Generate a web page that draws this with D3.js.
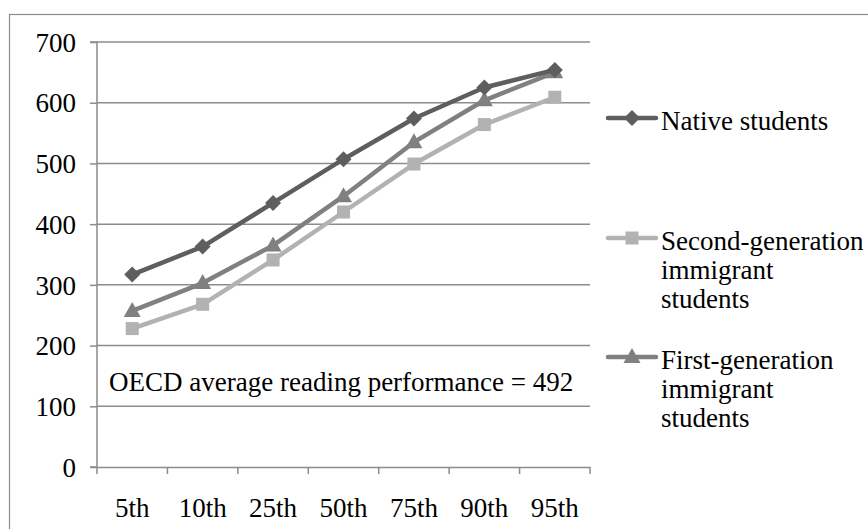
<!DOCTYPE html>
<html><head><meta charset="utf-8">
<script src="https://cdn.jsdelivr.net/npm/d3@7"></script>
</head><body style="margin:0"><svg id="c" width="868" height="529" font-family="serif"></svg>
<script>
const categories = ["5th","10th","25th","50th","75th","90th","95th"];
const nativeVals = [317,363,435,507,574,625,654];
const secondGenVals = [228,268,341,420,499,564,609];
const firstGenVals = [257,303,365,446,535,604,650];
const yTicks = [0,100,200,300,400,500,600,700];
const seriesNames = ["Native students","Second-generation immigrant students","First-generation immigrant students"];

const FONT = "serif";
const FS = 27;
const svg = d3.select("#c");
const L = 97, R = 590, T = 42, B = 467;
const x = d3.scaleBand().domain(categories).range([L, R]);
const y = d3.scaleLinear().domain([0,700]).range([B, T]);

svg.append("rect").attr("x",9.5).attr("y",14.5).attr("width",900).attr("height",600)
  .attr("fill","none").attr("stroke","#8a8a8a").attr("stroke-width",1.2);

svg.append("g").selectAll("line").data(yTicks.filter(d=>d>0)).join("line")
  .attr("x1",L).attr("x2",R).attr("y1",d=>y(d)).attr("y2",d=>y(d))
  .attr("stroke","#8c8c8c").attr("stroke-width",1.5);

const ya = svg.append("g").attr("transform",`translate(${L},0)`)
  .call(d3.axisLeft(y).tickValues(yTicks).tickSize(7).tickPadding(14));
ya.attr("font-family",FONT).attr("font-size",FS);
ya.select(".domain").attr("stroke","#8c8c8c").attr("stroke-width",1.5).attr("d",`M-7,${B}H0V${T}H-7`);
ya.selectAll(".tick line").attr("stroke","#8c8c8c").attr("stroke-width",1.5);
ya.selectAll("text").attr("fill","#000").attr("font-family",FONT).attr("dy","0.34em");

const xa = svg.append("g").attr("transform",`translate(0,${B})`)
  .call(d3.axisBottom(x).tickSize(0).tickPadding(31));
xa.attr("font-family",FONT).attr("font-size",FS);
xa.select(".domain").attr("stroke","#8c8c8c").attr("stroke-width",1.5);
xa.selectAll("text").attr("fill","#000").attr("font-family",FONT);
const bounds = categories.map(c=>x(c)).concat([R]);
xa.append("g").selectAll("line").data(bounds).join("line")
  .attr("x1",d=>d).attr("x2",d=>d).attr("y1",0).attr("y2",7)
  .attr("stroke","#8c8c8c").attr("stroke-width",1.5);

const cx = c => x(c) + x.bandwidth()/2;
const series = [
  {vals: secondGenVals, color:"#b2b2b2", sym:"square"},
  {vals: firstGenVals, color:"#808080", sym:"triangle"},
  {vals: nativeVals, color:"#5e5e5e", sym:"diamond"}
];
function marker(g, sym, color, px, py){
  if(sym==="diamond") g.append("path").attr("d",`M${px},${py-8}L${px+8},${py}L${px},${py+8}L${px-8},${py}Z`).attr("fill",color);
  else if(sym==="square") g.append("rect").attr("x",px-6.5).attr("y",py-6.5).attr("width",13).attr("height",13).attr("fill",color);
  else g.append("path").attr("d",`M${px},${py-9}L${px+8.5},${py+6}L${px-8.5},${py+6}Z`).attr("fill",color);
}
const line = d3.line().x((d,i)=>cx(categories[i])).y(d=>y(d));
series.forEach(s=>{
  const g = svg.append("g");
  g.append("path").datum(s.vals).attr("d",line).attr("fill","none").attr("stroke",s.color).attr("stroke-width",4.5).attr("stroke-linejoin","round");
  s.vals.forEach((v,i)=>marker(g,s.sym,s.color,cx(categories[i]),y(v)));
});

svg.append("text").attr("x",109).attr("y",391).attr("font-family",FONT).attr("font-size",FS).text("OECD average reading performance = 492");

const leg = [
  {name:seriesNames[0], lines:["Native students"], color:"#5e5e5e", sym:"diamond", y:118},
  {name:seriesNames[1], lines:["Second-generation","immigrant","students"], color:"#b2b2b2", sym:"square", y:238},
  {name:seriesNames[2], lines:["First-generation","immigrant","students"], color:"#808080", sym:"triangle", y:357}
];
leg.forEach(l=>{
  const g = svg.append("g");
  g.append("line").attr("x1",608).attr("x2",656).attr("y1",l.y).attr("y2",l.y).attr("stroke",l.color).attr("stroke-width",4.5).attr("stroke-linecap","round");
  marker(g,l.sym,l.color,632,l.y);
  l.lines.forEach((t,i)=>g.append("text").attr("x",661).attr("y",l.y+12+i*29).attr("font-family",FONT).attr("font-size",FS).text(t));
});
</script></body></html>
